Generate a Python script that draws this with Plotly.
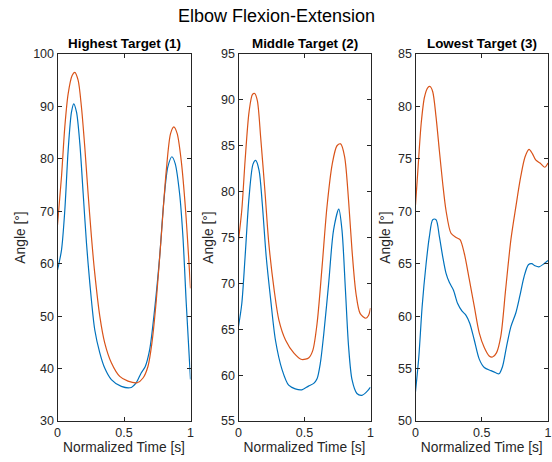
import plotly.graph_objects as go

# ---- data ----
p1_blue_x = [0, 0.03, 0.055, 0.08, 0.105, 0.122, 0.143, 0.168, 0.193, 0.218, 0.243, 0.28, 0.318, 0.355, 0.405, 0.48, 0.555, 0.592, 0.63, 0.66, 0.693, 0.73, 0.768, 0.80, 0.83, 0.86, 0.885, 0.918, 0.943, 0.968, 1.0]
p1_blue_y = [58.8, 62.6, 70.2, 81.6, 88.9, 90.5, 88.9, 82.9, 73.4, 63.9, 56.3, 47.4, 43.0, 40.1, 37.9, 36.6, 36.4, 37.3, 39.2, 40.4, 43.6, 51.2, 61.3, 72.1, 78.5, 80.4, 79.1, 73.4, 65.2, 52.5, 37.9]
p1_orange_x = [0, 0.03, 0.055, 0.08, 0.11, 0.13, 0.155, 0.18, 0.205, 0.23, 0.255, 0.28, 0.318, 0.355, 0.405, 0.468, 0.53, 0.60, 0.643, 0.68, 0.71, 0.743, 0.78, 0.818, 0.85, 0.875, 0.90, 0.93, 0.963, 1.0]
p1_orange_y = [67.4, 76.6, 86.1, 92.4, 95.9, 96.5, 95.0, 89.9, 82.3, 73.4, 65.2, 58.2, 50.0, 44.9, 41.1, 38.5, 37.6, 37.3, 38.2, 40.4, 44.9, 53.1, 65.2, 77.8, 84.8, 86.1, 84.8, 79.7, 70.2, 55.3]

p2_blue_x = [0, 0.025, 0.05, 0.08, 0.11, 0.13, 0.156, 0.18, 0.21, 0.244, 0.28, 0.33, 0.38, 0.43, 0.48, 0.53, 0.57, 0.595, 0.62, 0.646, 0.683, 0.72, 0.76, 0.784, 0.81, 0.834, 0.86, 0.897, 0.935, 0.972, 1.0]
p2_blue_y = [65.3, 67.8, 72.9, 79.4, 83.0, 83.4, 82.3, 78.7, 72.9, 68.2, 63.8, 60.6, 58.9, 58.5, 58.4, 58.8, 59.1, 59.6, 61.3, 64.5, 70.0, 75.8, 78.1, 75.8, 69.3, 63.1, 59.5, 58.0, 57.8, 58.2, 58.7]
p2_orange_x = [0, 0.025, 0.05, 0.08, 0.106, 0.123, 0.143, 0.168, 0.20, 0.23, 0.27, 0.306, 0.357, 0.42, 0.48, 0.533, 0.563, 0.595, 0.633, 0.67, 0.71, 0.746, 0.774, 0.804, 0.834, 0.86, 0.89, 0.922, 0.965, 0.985, 1.0]
p2_orange_y = [74.7, 78.0, 83.4, 88.7, 90.6, 90.7, 89.9, 85.9, 80.1, 74.3, 69.3, 66.0, 63.8, 62.4, 61.7, 61.9, 62.7, 65.6, 71.8, 78.3, 83.0, 85.0, 85.2, 83.8, 79.0, 73.6, 68.9, 66.7, 66.2, 66.5, 67.3]

p3_blue_x = [0, 0.025, 0.05, 0.08, 0.105, 0.13, 0.155, 0.18, 0.205, 0.23, 0.256, 0.286, 0.318, 0.35, 0.38, 0.41, 0.444, 0.481, 0.519, 0.569, 0.606, 0.63, 0.657, 0.687, 0.72, 0.757, 0.787, 0.82, 0.852, 0.877, 0.902, 0.932, 0.97, 1.0]
p3_blue_y = [52.8, 56.1, 60.9, 65.0, 67.6, 69.2, 69.2, 67.6, 65.7, 64.1, 63.2, 62.5, 61.2, 60.5, 60.1, 59.3, 57.7, 55.9, 55.1, 54.8, 54.6, 54.5, 55.2, 57.1, 59.0, 60.3, 61.9, 63.8, 64.9, 65.0, 64.8, 64.7, 65.0, 65.3]
p3_orange_x = [0, 0.018, 0.043, 0.068, 0.093, 0.11, 0.13, 0.155, 0.18, 0.205, 0.23, 0.268, 0.306, 0.336, 0.368, 0.406, 0.444, 0.481, 0.519, 0.556, 0.581, 0.611, 0.644, 0.68, 0.72, 0.757, 0.794, 0.827, 0.857, 0.882, 0.907, 0.94, 0.975, 1.0]
p3_orange_y = [70.6, 73.9, 78.4, 80.9, 81.8, 81.9, 81.4, 79.0, 75.8, 72.7, 70.1, 67.9, 67.5, 67.3, 66.0, 63.5, 60.9, 58.4, 57.0, 56.2, 56.1, 56.5, 58.1, 62.5, 67.3, 70.4, 73.3, 75.2, 75.9, 75.5, 74.9, 74.6, 74.2, 74.6]

panel_titles = ["Highest Target (1)", "Middle Target (2)", "Lowest Target (3)"]
y_ranges = [[30, 100], [55, 95], [50, 85]]
y_dticks = [10, 5, 5]
x_ticks = [0, 0.5, 1]
x_ticklabels = ["0", "0.5", "1"]
main_title = "Elbow Flexion-Extension"
x_title = "Normalized Time [s]"
y_title = "Angle [°]"

BLUE = "#0072BD"
ORANGE = "#D95319"
AX = "#262626"
FONT = "Liberation Sans, Arial, sans-serif"

panels = [
    (p1_blue_x, p1_blue_y, p1_orange_x, p1_orange_y),
    (p2_blue_x, p2_blue_y, p2_orange_x, p2_orange_y),
    (p3_blue_x, p3_blue_y, p3_orange_x, p3_orange_y),
]

W, H = 552, 462
x_domains_px = [(57.5, 190.5), (238.5, 370.5), (415.5, 548.0)]
y_top_px, y_bot_px = 54, 421

fig = go.Figure()
layout = dict(
    width=W, height=H,
    margin=dict(l=0, r=0, t=0, b=0, autoexpand=False),
    paper_bgcolor="white", plot_bgcolor="white",
    showlegend=False,
    font=dict(family=FONT, size=12, color=AX),
)
annotations = []
for i, (bx, by, ox, oy) in enumerate(panels):
    n = "" if i == 0 else str(i + 1)
    xa, ya = "x" + n, "y" + n
    fig.add_trace(go.Scatter(x=bx, y=by, mode="lines", xaxis=xa, yaxis=ya,
                             line=dict(color=BLUE, width=1.2, shape="spline", smoothing=0.8)))
    fig.add_trace(go.Scatter(x=ox, y=oy, mode="lines", xaxis=xa, yaxis=ya,
                             line=dict(color=ORANGE, width=1.2, shape="spline", smoothing=0.8)))
    d0, d1 = x_domains_px[i]
    common = dict(showline=True, linecolor=AX, linewidth=1, mirror="ticks",
                  ticks="inside", ticklen=4, tickcolor=AX, tickwidth=1,
                  showgrid=False, zeroline=False, automargin=False,
                  ticklabeloverflow="allow",
                  tickfont=dict(family=FONT, size=12.5, color=AX))
    layout["xaxis" + n] = dict(
        domain=[d0 / W, d1 / W], range=[0, 1], anchor=ya,
        tickvals=x_ticks, ticktext=x_ticklabels,
        title=dict(text=x_title, font=dict(family=FONT, size=13.8, color=AX), standoff=2),
        **common)
    layout["yaxis" + n] = dict(
        domain=[1 - y_bot_px / H, 1 - y_top_px / H], range=y_ranges[i], anchor=xa,
        dtick=y_dticks[i], tick0=0,
        title=dict(text=y_title, font=dict(family=FONT, size=13.8, color=AX), standoff=4),
        **common)
    annotations.append(dict(
        text="<b>" + panel_titles[i] + "</b>", x=(d0 + d1) / 2 / W, y=1 - 43 / H,
        xref="paper", yref="paper", xanchor="center", yanchor="middle",
        showarrow=False, font=dict(family=FONT, size=13.4, color="black")))

annotations.append(dict(
    text=main_title, x=0.5, y=1 - 16 / H, xref="paper", yref="paper",
    xanchor="center", yanchor="middle", showarrow=False,
    font=dict(family=FONT, size=18, color="black")))
layout["annotations"] = annotations
fig.update_layout(**layout)
fig.write_html("out.html")
